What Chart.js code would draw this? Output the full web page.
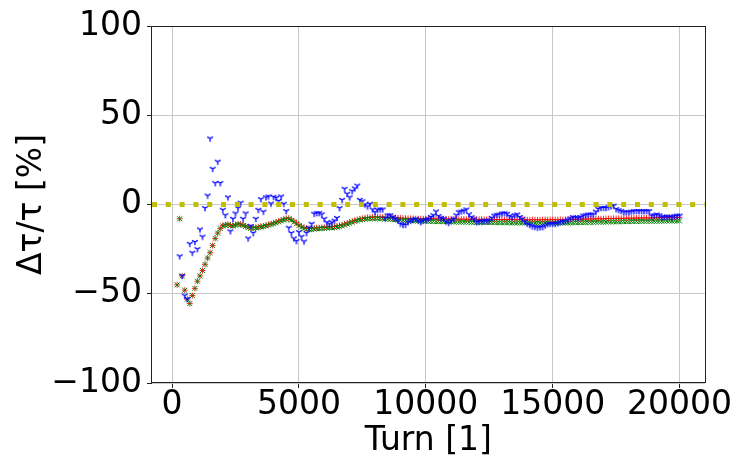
<!DOCTYPE html>
<html>
<head>
<meta charset="utf-8">
<script src="https://cdn.jsdelivr.net/npm/chart.js@4"></script>
<style>
  html, body { margin: 0; padding: 0; background: #fff; }
</style>
</head>
<body>
<canvas id="chart" width="731" height="461"></canvas>
<script>
// Turn numbers (x)
const turns = [
  200, 300, 400, 500, 600, 700, 800, 900,
  1000, 1100, 1200, 1300, 1400, 1500, 1600, 1700, 1800, 1900,
  2000, 2100, 2200, 2300, 2400, 2500, 2600, 2700, 2800, 2900,
  3000, 3100, 3200, 3300, 3400, 3500, 3600, 3700, 3800, 3900,
  4000, 4100, 4200, 4300, 4400, 4500, 4600, 4700, 4800, 4900,
  5000, 5100, 5200, 5300, 5400, 5500, 5600, 5700, 5800, 5900,
  6000, 6100, 6200, 6300, 6400, 6500, 6600, 6700, 6800, 6900,
  7000, 7100, 7200, 7300, 7400, 7500, 7600, 7700, 7800, 7900,
  8000, 8100, 8200, 8300, 8400, 8500, 8600, 8700, 8800, 8900,
  9000, 9100, 9200, 9300, 9400, 9500, 9600, 9700, 9800, 9900,
  10000, 10100, 10200, 10300, 10400, 10500, 10600, 10700, 10800, 10900,
  11000, 11100, 11200, 11300, 11400, 11500, 11600, 11700, 11800, 11900,
  12000, 12100, 12200, 12300, 12400, 12500, 12600, 12700, 12800, 12900,
  13000, 13100, 13200, 13300, 13400, 13500, 13600, 13700, 13800, 13900,
  14000, 14100, 14200, 14300, 14400, 14500, 14600, 14700, 14800, 14900,
  15000, 15100, 15200, 15300, 15400, 15500, 15600, 15700, 15800, 15900,
  16000, 16100, 16200, 16300, 16400, 16500, 16600, 16700, 16800, 16900,
  17000, 17100, 17200, 17300, 17400, 17500, 17600, 17700, 17800, 17900,
  18000, 18100, 18200, 18300, 18400, 18500, 18600, 18700, 18800, 18900,
  19000, 19100, 19200, 19300, 19400, 19500, 19600, 19700, 19800, 19900,
  20000
];

// blue (tri_down markers)
const blueVals = [
  null, -29, -40, -51, -53, -22, -27, -21,
  -25, -14, -18, -2, 5, 37, 20, 12, 24, 12,
  -3, -6, 4, -15, -8, -5, -2, 1, -8, -5,
  -19, -12, -16, -8, -3, 3, -4, 4, 4.5, 0.5,
  4.3, 3.7, 2, 4.5, 0.4, -3.7, -13, -16, -19, -20.5,
  -15.5, -18, -20.7, -16, -13, -10.8, -5.2, -4.8, -4.8, -5.5,
  -8, -10, -11, -10, -9, -7.5, -2, 2.6, 8.8, 6,
  4, 7.5, 9, 10.6, 2.6, 1.8, 0, -1.1, 0.4, -2.8,
  -4.3, -3, -2.8, -2.8, -7.7, -6, -6, -7, -8, -9,
  -10.8, -11.4, -11.4, -9.9, -9, -8.5, -8, -9, -9.9, -9,
  -8.5, -8, -7, -6, -3.9, -6.5, -7.5, -8, -9.5, -10.3,
  -9, -8, -6, -4.3, -3.9, -3.5, -2.8, -5.5, -7.1, -8,
  -9.9, -9.5, -9.5, -9, -9, -9, -7.5, -6.2, -5.8, -5.6,
  -5, -4.9, -5.2, -6.5, -7.1, -6, -5.6, -7, -8, -9.5,
  -10.8, -11.5, -12.3, -12.5, -13, -12.7, -12.7, -11.8, -11, -10.8,
  -10.8, -10.8, -10.5, -9.9, -9.5, -9.3, -8.5, -7.8, -7.1, -7.3,
  -7.5, -7, -6.2, -6, -5.6, -5.6, -5.6, -4, -2.5, -1.9,
  -1.9, -1.9, -1.5, -1, -0.6, -2.6, -3.2, -3.7, -4.3, -4.3,
  -4.3, -4, -3.7, -3.7, -3.7, -3.7, -3.7, -3.7, -3.7, -6.2,
  -6, -5.6, -6, -7.1, -6.9, -6.7, -7, -7.1, -6.5, -6.2,
  -6.2
];

// red (+ markers)
const redVals = [
  -45, -8, -40, -48, -53, -55.5, -51, -47,
  -43, -40, -37, -33.5, -30, -27, -23, -19, -16, -13.5,
  -11.8, -11.3, -11, -11.5, -11.8, -11.3, -10.8, -11, -11.4, -12,
  -12.5, -13, -13, -12.8, -12.6, -12.2, -12, -11.6, -11.2, -10.8,
  -10.3, -9.8, -9.2, -8.7, -8.2, -7.8, -7.6, -8.3, -9.3, -10.3,
  -11.3, -12.2, -12.9, -13.3, -13.5, -13.5, -13.2, -13, -13, -12.8,
  -12.8, -12.6, -12.5, -12.5, -12.3, -12, -11.8, -11.4, -10.9, -10.4,
  -9.9, -9.4, -8.9, -8.5, -8.1, -7.8, -7.5, -7.3, -7.2, -7.1,
  -7, -7, -7, -7.1, -7.2, -7.2, -7.3, -7.4, -7.5, -7.5,
  -7.6, -7.7, -7.7, -7.8, -7.8, -7.9, -8, -8, -8, -8,
  -8, -8.1, -8, -8, -8.1, -8.2, -8.1, -8, -8.1, -8.2,
  -8.2, -8.1, -8.2, -8.3, -8.2, -8.2, -8.3, -8.3, -8.2, -8.3,
  -8.4, -8.3, -8.3, -8.4, -8.4, -8.3, -8.4, -8.5, -8.4, -8.4,
  -8.4, -8.5, -8.5, -8.4, -8.4, -8.5, -8.5, -8.4, -8.5, -8.5,
  -8.6, -8.6, -8.5, -8.6, -8.6, -8.6, -8.5, -8.5, -8.6, -8.5,
  -8.5, -8.5, -8.5, -8.4, -8.5, -8.4, -8.4, -8.4, -8.3, -8.3,
  -8.3, -8.2, -8.2, -8.2, -8.1, -8.1, -8.1, -8, -8, -8,
  -8, -7.9, -7.9, -7.9, -7.8, -7.8, -7.8, -7.8, -7.7, -7.7,
  -7.7, -7.7, -7.6, -7.6, -7.6, -7.6, -7.5, -7.5, -7.5, -7.5,
  -7.5, -7.4, -7.4, -7.4, -7.4, -7.3, -7.3, -7.3, -7.3, -7.3,
  -7.2
];

// green (x markers)
const greenVals = [
  -45, -8, -40, -48, -53, -55.5, -51, -47,
  -43, -40, -37, -33.5, -30, -27, -23, -19, -16, -13.5,
  -12, -11.6, -11.3, -11.8, -12.1, -11.6, -11.1, -11.3, -11.7, -12.3,
  -12.9, -13.4, -13.4, -13.2, -13, -12.6, -12.4, -12, -11.6, -11.2,
  -10.8, -10.3, -9.7, -9.2, -8.7, -8.3, -8.1, -8.8, -9.8, -10.8,
  -11.8, -12.7, -13.5, -13.9, -14.1, -14.1, -13.8, -13.6, -13.6, -13.4,
  -13.4, -13.2, -13.1, -13.1, -12.9, -12.6, -12.4, -12, -11.5, -11,
  -10.5, -10, -9.5, -9.1, -8.7, -8.4, -8.2, -8, -7.9, -7.9,
  -7.9, -7.9, -7.9, -8, -8.1, -8.2, -8.3, -8.4, -8.5, -8.6,
  -8.7, -8.8, -8.9, -9, -9, -9.1, -9.2, -9.2, -9.3, -9.3,
  -9.4, -9.5, -9.5, -9.5, -9.6, -9.6, -9.6, -9.6, -9.7, -9.7,
  -9.7, -9.8, -9.8, -9.8, -9.9, -9.9, -9.9, -9.9, -10, -10,
  -10, -10, -10, -10.1, -10.1, -10.1, -10.1, -10.1, -10.2, -10.2,
  -10.2, -10.2, -10.2, -10.2, -10.3, -10.3, -10.3, -10.3, -10.3, -10.3,
  -10.3, -10.4, -10.4, -10.4, -10.4, -10.4, -10.4, -10.4, -10.4, -10.4,
  -10.4, -10.4, -10.4, -10.3, -10.3, -10.3, -10.3, -10.3, -10.2, -10.2,
  -10.2, -10.1, -10.1, -10.1, -10, -10, -10, -9.9, -9.9, -9.9,
  -9.8, -9.8, -9.8, -9.7, -9.7, -9.7, -9.7, -9.6, -9.6, -9.6,
  -9.6, -9.5, -9.5, -9.5, -9.5, -9.4, -9.4, -9.4, -9.4, -9.4,
  -9.3, -9.3, -9.3, -9.3, -9.3, -9.2, -9.2, -9.2, -9.2, -9.2,
  -9.2
];

// zero reference line, axis limits and ticks
const refLevel = 0;
const xRange = [-790, 20990];
const xTicks = [0, 5000, 10000, 15000, 20000];
const yTicks = [-100, -50, 0, 50, 100];

const FONT = "'DejaVu Sans', sans-serif";

function pts(vals) {
  return turns.map((t, i) => ({ x: t, y: vals[i] }));
}

// matplotlib '1' (tri_down) marker
function triDown(color, r) {
  const c = document.createElement("canvas");
  c.width = 10;
  c.height = 10;
  const g = c.getContext("2d");
  g.strokeStyle = color;
  g.lineWidth = 1.3;
  g.beginPath();
  g.moveTo(5, 5); g.lineTo(5, 5 + r);
  g.moveTo(5, 5); g.lineTo(5 - 0.866 * r, 5 - 0.5 * r);
  g.moveTo(5, 5); g.lineTo(5 + 0.866 * r, 5 - 0.5 * r);
  g.stroke();
  return c;
}

const frame = {
  id: "frame",
  afterDatasetsDraw(chart) {
    const { ctx, chartArea: a } = chart;
    ctx.save();
    ctx.strokeStyle = "#222";
    ctx.lineWidth = 1;
    ctx.strokeRect(Math.round(a.left) - 0.5, Math.round(a.top) + 0.5,
      Math.round(a.right - a.left) + 1, Math.round(a.bottom - a.top) - 1);
    ctx.restore();
  }
};

const ctx = document.getElementById("chart").getContext("2d");

new Chart(ctx, {
  type: "scatter",
  data: {
    datasets: [
      {
        label: "ref",
        data: [{ x: xRange[0], y: refLevel }, { x: xRange[1], y: refLevel }],
        showLine: true,
        borderColor: "#bfbf00",
        borderWidth: 5,
        borderDash: [5, 8.8],
        borderCapStyle: "butt",
        pointRadius: 0
      },
      {
        label: "blue",
        data: pts(blueVals),
        pointStyle: triDown("#0000ff", 3.3),
        pointRadius: 5
      },
      {
        label: "green",
        data: pts(greenVals),
        pointStyle: "crossRot",
        pointRadius: 3.5,
        borderColor: "#008000",
        borderWidth: 1
      },
      {
        label: "red",
        data: pts(redVals),
        pointStyle: "cross",
        pointRadius: 3,
        borderColor: "rgba(255,0,0,0.85)",
        borderWidth: 1
      }
    ]
  },
  options: {
    responsive: false,
    animation: false,
    events: [],
    layout: {
      autoPadding: false,
      padding: { top: 26, right: 20.5, left: 0, bottom: 0 }
    },
    plugins: {
      legend: { display: false },
      tooltip: { enabled: false }
    },
    scales: {
      x: {
        type: "linear",
        min: xRange[0],
        max: xRange[1],
        afterBuildTicks: (axis) => { axis.ticks = xTicks.map(v => ({ value: v })); },
        afterFit: (s) => { s.height = 78; },
        border: { display: false },
        grid: { color: "#c8c8c8", lineWidth: 1, tickColor: "#222", tickLength: 5 },
        ticks: {
          autoSkip: false,
          maxRotation: 0,
          minRotation: 0,
          padding: -2,
          color: "#000",
          font: { family: FONT, size: 33 },
          callback: (v) => String(v)
        },
        title: {
          display: true,
          text: "Turn [1]",
          color: "#000",
          font: { family: FONT, size: 33 },
          padding: { top: 0, bottom: 0 }
        }
      },
      y: {
        min: -100,
        max: 100,
        afterBuildTicks: (axis) => { axis.ticks = yTicks.map(v => ({ value: v })); },
        afterFit: (s) => { s.width = 152; },
        border: { display: false },
        grid: { color: "#c8c8c8", lineWidth: 1, tickColor: "#222", tickLength: 5 },
        ticks: {
          padding: 5,
          color: "#000",
          font: { family: FONT, size: 33 },
          callback: (v) => (v < 0 ? "\u2212" + Math.abs(v) : String(v))
        },
        title: {
          display: true,
          text: "Δτ/τ [%]",
          color: "#000",
          font: { family: FONT, size: 33 },
          padding: { top: 13, bottom: 13 }
        }
      }
    }
  },
  plugins: [frame]
});
</script>
</body>
</html>
